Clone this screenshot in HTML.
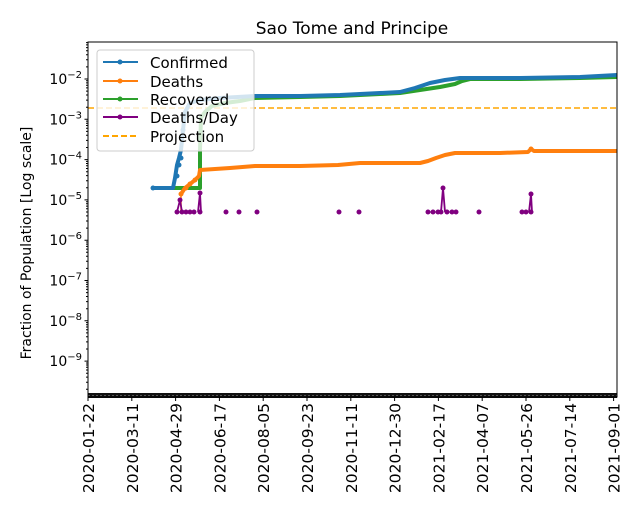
<!DOCTYPE html>
<html><head><style>body{margin:0;background:#fff}svg{display:block}text{font-family:"DejaVu Sans","Liberation Sans",sans-serif}</style></head><body>
<svg width="640" height="520" viewBox="0 0 640 520">
<rect width="640" height="520" fill="#fff"/>
<text x="352" y="34" font-size="17" text-anchor="middle">Sao Tome and Principe</text>
<line x1="88" y1="108" x2="617" y2="108" stroke="#ffa500" stroke-width="1.5" stroke-dasharray="6,3"/>
<polyline fill="none" stroke="#2ca02c" stroke-width="4" stroke-linejoin="round" points="173,188 200,188 200,150 201,118 205,112 212,106 225,103 240,101 255,98 300,97 340,96 380,94 400,93 420,90 440,87 455,84 462,81 470,79 520,79 580,78 617,77"/>
<polyline fill="none" stroke="#1f77b4" stroke-width="4" stroke-linejoin="round" points="153,188 173,188 175,178 177,165 179,158 181,150 183,130 185,112 190,103 200,100 220,98 255,96 300,96 340,95 380,93 400,92 415,88 430,83 445,80 460,78 520,78 580,77 617,75"/>
<g fill="#1f77b4"><circle cx="153" cy="188" r="2.5"/><circle cx="177" cy="176" r="2.5"/><circle cx="179" cy="165" r="2.5"/><circle cx="181" cy="158" r="2.5"/><circle cx="183" cy="130" r="2.5"/></g>
<polyline fill="none" stroke="#ff7f0e" stroke-width="4" stroke-linejoin="round" points="181,194 185,188 190,184 195,180 199,176 200,170 215,169 230,168 255,166 300,166 338,165 360,163 420,163 428,161 436,158 445,155 455,153 500,153 528,152 531,149 534,151 617,151"/>
<line x1="181" y1="194" x2="181" y2="212" stroke="#ff7f0e" stroke-width="1.5"/>
<g fill="#ff7f0e"><circle cx="181" cy="194" r="2.5"/><circle cx="186" cy="188" r="2.5"/><circle cx="190" cy="184" r="2.5"/><circle cx="195" cy="180" r="2.5"/><circle cx="531" cy="149" r="2.5"/></g>
<g stroke="#800080" stroke-width="1.8" fill="none"><polyline points="177,212 180,200 182,212"/><polyline points="198,212 200,193 201,212"/><polyline points="441,212 443,188 445,212"/><polyline points="529,212 531,194 532,212"/></g>
<g fill="#800080"><circle cx="177" cy="212" r="2.5"/><circle cx="180" cy="200" r="2.5"/><circle cx="182" cy="212" r="2.5"/><circle cx="186" cy="212" r="2.5"/><circle cx="190" cy="212" r="2.5"/><circle cx="194" cy="212" r="2.5"/><circle cx="200" cy="193" r="2.5"/><circle cx="200" cy="212" r="2.5"/><circle cx="226" cy="212" r="2.5"/><circle cx="239" cy="212" r="2.5"/><circle cx="257" cy="212" r="2.5"/><circle cx="339" cy="212" r="2.5"/><circle cx="359" cy="212" r="2.5"/><circle cx="428" cy="212" r="2.5"/><circle cx="433" cy="212" r="2.5"/><circle cx="438" cy="212" r="2.5"/><circle cx="441" cy="212" r="2.5"/><circle cx="443" cy="188" r="2.5"/><circle cx="447" cy="212" r="2.5"/><circle cx="452" cy="212" r="2.5"/><circle cx="456" cy="212" r="2.5"/><circle cx="479" cy="212" r="2.5"/><circle cx="522" cy="212" r="2.5"/><circle cx="526" cy="212" r="2.5"/><circle cx="531" cy="194" r="2.5"/><circle cx="531" cy="212" r="2.5"/></g>
<rect x="88" y="393" width="529" height="5" fill="#111"/>
<line x1="88" y1="395.5" x2="617" y2="395.5" stroke="#555" stroke-width="1" stroke-dasharray="2,2"/>
<rect x="88" y="42" width="529" height="355" fill="none" stroke="#000" stroke-width="1"/>
<rect x="97" y="50" width="157" height="101" rx="3" fill="#fff" fill-opacity="0.8" stroke="#ccc"/>
<g stroke-width="2"><line x1="103" y1="62" x2="138" y2="62" stroke="#1f77b4"/><circle cx="120" cy="62" r="2.5" fill="#1f77b4"/>
<line x1="103" y1="81" x2="138" y2="81" stroke="#ff7f0e"/><circle cx="120" cy="81" r="2.5" fill="#ff7f0e"/>
<line x1="103" y1="99" x2="138" y2="99" stroke="#2ca02c"/><circle cx="120" cy="99" r="2.5" fill="#2ca02c"/>
<line x1="103" y1="117" x2="138" y2="117" stroke="#800080"/><circle cx="120" cy="117" r="2.5" fill="#800080"/>
<line x1="103" y1="136" x2="138" y2="136" stroke="#ffa500" stroke-dasharray="6,3"/></g>
<g font-size="15"><text x="150" y="68">Confirmed</text><text x="150" y="87">Deaths</text><text x="150" y="105">Recovered</text><text x="150" y="123">Deaths/Day</text><text x="150" y="142">Projection</text></g>
<path stroke="#000" stroke-width="1" fill="none" d="M84.5 79h3.5M84.5 119.3h3.5M84.5 159.6h3.5M84.5 199.9h3.5M84.5 240.2h3.5M84.5 280.5h3.5M84.5 320.8h3.5M84.5 361.1h3.5
M86 66.9h2M86 59.8h2M86 54.7h2M86 50.8h2M86 47.6h2M86 44.9h2M86 42.6h2
M86 107.2h2M86 100.1h2M86 95h2M86 91.1h2M86 87.9h2M86 85.2h2M86 82.9h2M86 80.8h2
M86 147.5h2M86 140.4h2M86 135.3h2M86 131.4h2M86 128.2h2M86 125.5h2M86 123.2h2M86 121.1h2
M86 187.8h2M86 180.7h2M86 175.6h2M86 171.7h2M86 168.5h2M86 165.8h2M86 163.5h2M86 161.4h2
M86 228.1h2M86 221h2M86 215.9h2M86 212h2M86 208.8h2M86 206.1h2M86 203.8h2M86 201.7h2
M86 268.4h2M86 261.3h2M86 256.2h2M86 252.3h2M86 249.1h2M86 246.4h2M86 244.1h2M86 242h2
M86 308.7h2M86 301.6h2M86 296.5h2M86 292.6h2M86 289.4h2M86 286.7h2M86 284.4h2M86 282.3h2
M86 349h2M86 341.9h2M86 336.8h2M86 332.9h2M86 329.7h2M86 327h2M86 324.7h2M86 322.6h2
M86 389.3h2M86 382.2h2M86 377.1h2M86 373.2h2M86 370h2M86 367.3h2M86 365h2M86 363h2"/>
<g font-size="14" text-anchor="end">
<text x="82" y="84">10<tspan dy="-6" font-size="10">−2</tspan></text>
<text x="82" y="124.3">10<tspan dy="-6" font-size="10">−3</tspan></text>
<text x="82" y="164.6">10<tspan dy="-6" font-size="10">−4</tspan></text>
<text x="82" y="204.9">10<tspan dy="-6" font-size="10">−5</tspan></text>
<text x="82" y="245.2">10<tspan dy="-6" font-size="10">−6</tspan></text>
<text x="82" y="285.5">10<tspan dy="-6" font-size="10">−7</tspan></text>
<text x="82" y="325.8">10<tspan dy="-6" font-size="10">−8</tspan></text>
<text x="82" y="366.1">10<tspan dy="-6" font-size="10">−9</tspan></text>
</g>
<text transform="translate(31,243) rotate(-90)" font-size="14" text-anchor="middle">Fraction of Population [Log scale]</text>
<path stroke="#000" d="M88 397v4M131.8 397v4M175.6 397v4M219.4 397v4M263.2 397v4M307 397v4M350.8 397v4M394.6 397v4M438.4 397v4M482.2 397v4M526 397v4M569.8 397v4M613.6 397v4"/>
<g font-size="15.5" text-anchor="end">
<text transform="translate(94,403) rotate(-90)">2020-01-22</text>
<text transform="translate(137.8,403) rotate(-90)">2020-03-11</text>
<text transform="translate(181.6,403) rotate(-90)">2020-04-29</text>
<text transform="translate(225.4,403) rotate(-90)">2020-06-17</text>
<text transform="translate(269.2,403) rotate(-90)">2020-08-05</text>
<text transform="translate(313,403) rotate(-90)">2020-09-23</text>
<text transform="translate(356.8,403) rotate(-90)">2020-11-11</text>
<text transform="translate(400.6,403) rotate(-90)">2020-12-30</text>
<text transform="translate(444.4,403) rotate(-90)">2021-02-17</text>
<text transform="translate(488.2,403) rotate(-90)">2021-04-07</text>
<text transform="translate(532,403) rotate(-90)">2021-05-26</text>
<text transform="translate(575.8,403) rotate(-90)">2021-07-14</text>
<text transform="translate(619.6,403) rotate(-90)">2021-09-01</text>
</g>
</svg>
</body></html>
